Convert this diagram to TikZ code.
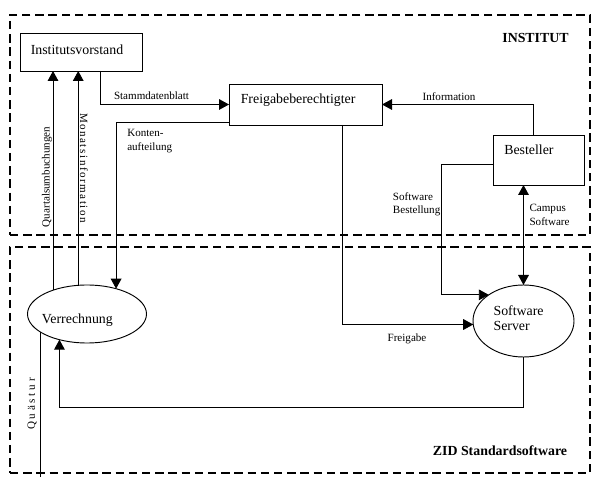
\documentclass[tikz,border=0pt]{standalone}
\usepackage{fontspec}
\setmainfont{Liberation Serif}
\usetikzlibrary{arrows.meta,calc,shapes.geometric}
\newcommand\lspc{\kern1.15pt}
\begin{document}
\begin{tikzpicture}[x=0.75pt,y=-0.75pt,
 frame/.style={draw, line width=1.8pt, dash pattern=on 6.3pt off 3.6pt, rectangle, inner sep=0, outer sep=0},
 box/.style={draw, line width=0.7pt, rectangle, inner sep=0, outer sep=0},
 ell/.style={draw, line width=0.7pt, ellipse, inner sep=0, outer sep=0},
 conn/.style={line width=0.7pt},
 arr/.style={conn, -{Triangle[length=7.5pt,width=8pt]}},
 darr/.style={conn, {Triangle[length=7.5pt,width=8pt]}-{Triangle[length=7.5pt,width=8pt]}},
 boxtxt/.style={inner sep=0, font=\fontsize{10.4}{11.5}\selectfont, align=left},
 lbl/.style={inner sep=0, font=\fontsize{8.3}{10}\selectfont, align=left},
 ttl/.style={inner sep=0, font=\fontsize{10.4}{12}\selectfont\bfseries},
]
\useasboundingbox (0,0) rectangle (593,477);
% frames
\node[frame, minimum width=435pt, minimum height=165pt] (inst) at (300,125) {};
\node[frame, minimum width=435pt, minimum height=169.5pt] (zid) at (300,360) {};
% boxes
\node[box, minimum width=91.5pt, minimum height=28.5pt] (Ivs) at (81,52) {};
\node[box, minimum width=114.75pt, minimum height=30.75pt] (Fb) at (305.5,104.5) {};
\node[box, minimum width=68.25pt, minimum height=37.5pt] (B) at (538.5,160) {};
\node[ell, minimum width=89.25pt, minimum height=43.5pt] (V) at (87,314) {};
\node[ell, minimum width=75.75pt, minimum height=54pt] (S) at (523.5,321) {};
% box texts
\node[boxtxt] (tIvs) at (77,50) {Institutsvorstand};
\node[boxtxt, anchor=west] (tFb) at (240.5,100) {Freigabeberechtigter};
\node[boxtxt, anchor=west] (tB) at (504,150) {Besteller};
\node[boxtxt, anchor=west] (tV) at (41.7,320) {Verrechnung};
\node[boxtxt, anchor=west] (tS) at (493.3,318) {Software\\Server};
% titles
\node[ttl] (tInst) at (535.5,38) {INSTITUT};
\node[ttl] (tZid) at (500,450.5) {ZID Standardsoftware};
% connectors
\draw[arr] ($(Ivs.south west)+(80,0)$) |- (Fb.west);
\draw[arr] ($(Fb.south west)+(0,-3)$) -| (V.41.1);
\draw[arr] (V.145) -- (V.145 |- Ivs.south);
\draw[arr] (V.107.4) -- (V.107.4 |- Ivs.south);
\draw[arr] ($(B.north west)+(40,0)$) |- (Fb.east);
\draw[arr] ($(B.north west)+(0,29)$) -| ($(S.143.3)+(-47,0)$) -- (S.143.3);
\draw[darr] (B.south -| S.north) -- (S.north);
\draw[arr] ($(Fb.south west)+(113,0)$) |- (S.184.5);
\draw[arr] (S.south) -- ++(0,50) -| (V.223.7);
\coordinate (qend) at (0,479);
\draw[conn] (V.201.8) -- (V.201.8 |- qend);
% labels
\node[lbl] (lStamm) at (151.5,96) {Stammdatenblatt};
\node[lbl, anchor=west] (lKonten) at (127,141) {Konten-\\aufteilung};
\node[lbl, rotate=90] (lQuartal) at (47,177) {Quartalsumbuchungen};
\node[lbl, rotate=-90] (lMonat) at (84,168) {M\lspc o\lspc n\lspc a\lspc t\lspc s\lspc i\lspc n\lspc f\lspc o\lspc r\lspc m\lspc a\lspc t\lspc i\lspc o\lspc n};
\node[lbl] (lInfo) at (449,97) {Information};
\node[lbl, anchor=west] (lSB) at (392.7,204) {Software\\Bestellung};
\node[lbl, anchor=west] (lCS) at (529.3,215) {Campus\\Software};
\node[lbl] (lFrei) at (407,339) {Freigabe};
\node[lbl, rotate=90] (lQu) at (32,404) {Q u ä s t u r};
\end{tikzpicture}
\end{document}
